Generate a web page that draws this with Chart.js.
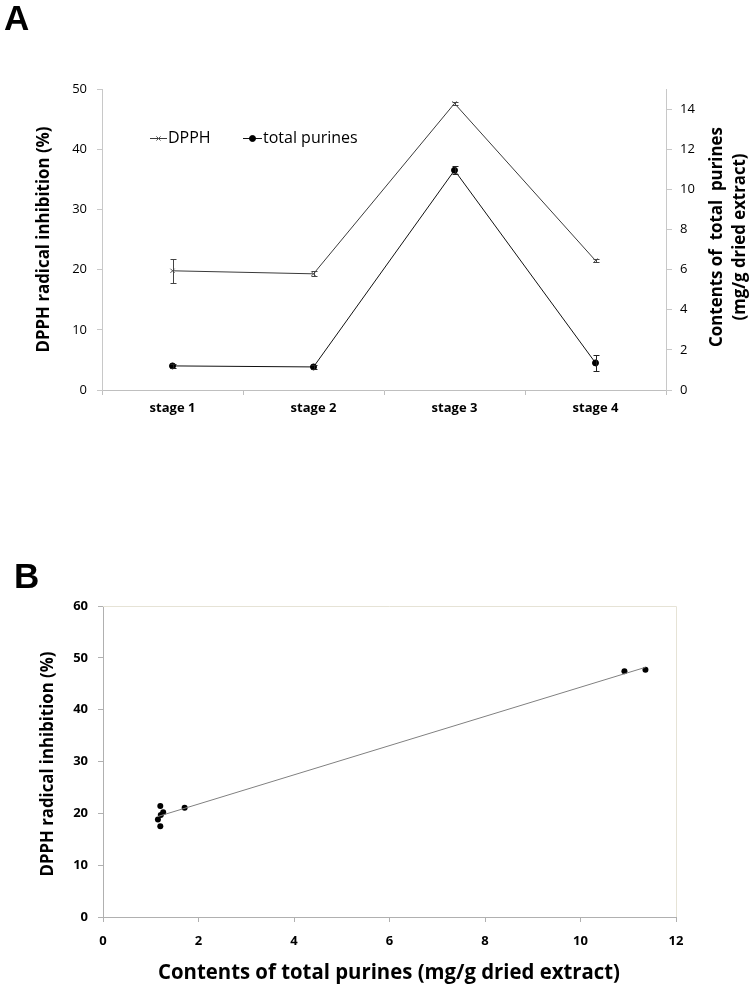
<!DOCTYPE html>
<html><head><meta charset="utf-8">
<script src="https://cdn.jsdelivr.net/npm/chart.js@4.4.1/dist/chart.umd.min.js"></script>
<style>
html,body{margin:0;padding:0;background:#fff;width:752px;height:991px;overflow:hidden;position:relative}
#c1{position:absolute;left:0;top:0}
#c2{position:absolute;left:0;top:560px}
.panel{position:absolute;font-family:'Liberation Sans',Arial,sans-serif;font-weight:bold;font-size:35px;line-height:35px;color:#000}
</style></head><body>
<canvas id="c1" width="752" height="430"></canvas>
<canvas id="c2" width="752" height="431"></canvas>
<div class="panel" style="left:4px;top:0px">A</div>
<div class="panel" style="left:14px;top:558px">B</div>
<script>
// ---------- data ----------
const stages = ['stage 1', 'stage 2', 'stage 3', 'stage 4'];
const dpphValues = [19.8, 19.3, 47.6, 21.5];
const dpphErrors = [2.0, 0.4, 0.3, 0.3];
const purineValues = [1.2, 1.15, 10.95, 1.35];
const purineErrors = [0.1, 0.08, 0.2, 0.4];
const leftTicksA = [0, 10, 20, 30, 40, 50];
const rightTicksA = [0, 2, 4, 6, 8, 10, 12, 14];

const scatterPurines = [1.20, 1.26, 1.21, 1.15, 1.20, 1.71, 10.92, 11.36];
const scatterDpph = [21.4, 20.2, 19.7, 18.8, 17.5, 21.1, 47.4, 47.7];

const legendLabels = ['DPPH', 'total purines'];
const titleLeftA = 'DPPH radical inhibition (%)';
const titleRightA1 = 'Contents of  total  purines';
const titleRightA2 = '(mg/g dried extract)';
const titleXB = 'Contents of total purines (mg/g dried extract)';
const titleYB = 'DPPH radical inhibition (%)';

Chart.defaults.font.family = '"Open Sans", sans-serif';
Chart.defaults.color = '#000';

function rotText(ctx, text, x, y, maxW) {
  ctx.save();
  ctx.translate(x, y);
  ctx.rotate(-Math.PI / 2);
  ctx.fillText(text, 0, 0, maxW);
  ctx.restore();
}

const errorBarPlugin = {
  id: 'errbars',
  afterDatasetsDraw(chart) {
    const ctx = chart.ctx;
    chart.data.datasets.forEach((ds, i) => {
      if (!ds.errorBars) return;
      const meta = chart.getDatasetMeta(i);
      const ys = chart.scales[ds.yAxisID];
      ctx.save();
      ctx.strokeStyle = ds.errorColor || '#000';
      ctx.lineWidth = 1;
      meta.data.forEach((pt, j) => {
        const v = ds.data[j], e = ds.errorBars[j];
        const y1 = Math.round(ys.getPixelForValue(v + e)) + 0.5;
        const y2 = Math.round(ys.getPixelForValue(v - e)) + 0.5;
        const x = Math.round(pt.x) + 0.5;
        ctx.beginPath();
        ctx.moveTo(x, y1); ctx.lineTo(x, y2);
        ctx.moveTo(x - 3, y1); ctx.lineTo(x + 3, y1);
        ctx.moveTo(x - 3, y2); ctx.lineTo(x + 3, y2);
        ctx.stroke();
      });
      ctx.restore();
    });
  }
};

const decorA = {
  id: 'decorA',
  afterDraw(chart) {
    const { ctx, chartArea: a } = chart;
    ctx.save();
    ctx.fillStyle = '#000';
    ctx.textAlign = 'center';
    ctx.textBaseline = 'middle';
    ctx.font = 'bold 17px "Open Sans", sans-serif';
    rotText(ctx, titleLeftA, 44, (a.top + a.bottom) / 2, 226);
    rotText(ctx, titleRightA1, 717, 237, 220);
    rotText(ctx, titleRightA2, 740, 237, 167);
    // legend
    const ly = a.top + 49.5;
    const items = [
      { x0: a.left + 48, x1: a.left + 65, tx: a.left + 66 },
      { x0: a.left + 141, x1: a.left + 160, tx: a.left + 161 }
    ];
    ctx.font = '16px "Open Sans", sans-serif';
    ctx.textAlign = 'left';
    items.forEach((it, i) => {
      const ds = chart.data.datasets[i];
      ctx.strokeStyle = ds.borderColor;
      ctx.lineWidth = 1;
      ctx.beginPath(); ctx.moveTo(it.x0, ly); ctx.lineTo(it.x1, ly); ctx.stroke();
      ctx.fillStyle = ds.pointBackgroundColor;
      ctx.strokeStyle = ds.pointBorderColor;
      Chart.helpers.drawPoint(ctx, { pointStyle: ds.pointStyle, radius: ds.pointRadius, rotation: 0, borderWidth: 1 }, (it.x0 + it.x1) / 2, ly);
      ctx.fillStyle = '#000';
      ctx.fillText(legendLabels[i], it.tx, ly, i === 0 ? 44 : 96);
    });
    ctx.restore();
  }
};

new Chart(document.getElementById('c1'), {
  type: 'line',
  data: {
    labels: stages,
    datasets: [
      {
        label: legendLabels[0], data: dpphValues, errorBars: dpphErrors, errorColor: '#444',
        yAxisID: 'y', borderColor: '#3a3a3a', borderWidth: 1, tension: 0,
        pointStyle: 'crossRot', pointRadius: 3, pointBorderColor: '#555', pointBackgroundColor: '#555', pointBorderWidth: 1
      },
      {
        label: legendLabels[1], data: purineValues, errorBars: purineErrors, errorColor: '#222',
        yAxisID: 'y1', borderColor: '#111', borderWidth: 1, tension: 0,
        pointStyle: 'circle', pointRadius: 3, pointBorderColor: '#000', pointBackgroundColor: '#000', pointBorderWidth: 1
      }
    ]
  },
  options: {
    responsive: false, animation: false,
    layout: { padding: { top: 89, left: 0, right: 0, bottom: 0 } },
    plugins: { legend: { display: false }, tooltip: { enabled: false } },
    scales: {
      x: {
        type: 'category', offset: true,
        grid: { offset: true, drawOnChartArea: false, tickLength: 5, color: '#bfbfbf' },
        border: { color: '#bfbfbf' },
        ticks: { font: { size: 13, weight: 'bold' }, color: '#000', padding: 5 },
        afterFit(s) { s.height = 40; }
      },
      y: {
        position: 'left', min: 0, max: 50,
        afterBuildTicks(s) { s.ticks = leftTicksA.map(v => ({ value: v })); },
        grid: { drawOnChartArea: false, tickLength: 5, color: '#c8c8c8' },
        border: { color: '#c8c8c8' },
        ticks: { font: { size: 13 }, color: '#000', padding: 10 },
        afterFit(s) { s.width = 102; }
      },
      y1: {
        position: 'right', min: 0, max: 15,
        afterBuildTicks(s) { s.ticks = rightTicksA.map(v => ({ value: v })); },
        grid: { drawOnChartArea: false, tickLength: 6, color: '#c8c8c8' },
        border: { color: '#c8c8c8' },
        ticks: { font: { size: 13 }, color: '#000', padding: 8 },
        afterFit(s) { s.width = 86; }
      }
    }
  },
  plugins: [errorBarPlugin, decorA]
});

// ---------- panel B ----------
const scatterPoints = scatterPurines.map((x, i) => ({ x: x, y: scatterDpph[i] }));
// least-squares trend line computed from the data
const n = scatterPurines.length;
const mx = scatterPurines.reduce((a, b) => a + b, 0) / n;
const my = scatterDpph.reduce((a, b) => a + b, 0) / n;
let sxy = 0, sxx = 0;
for (let i = 0; i < n; i++) { sxy += (scatterPurines[i] - mx) * (scatterDpph[i] - my); sxx += (scatterPurines[i] - mx) ** 2; }
const slope = sxy / sxx, intercept = my - slope * mx;
const xMin = Math.min(...scatterPurines), xMax = Math.max(...scatterPurines);
const trendPoints = [{ x: xMin, y: intercept + slope * xMin }, { x: xMax, y: intercept + slope * xMax }];

const decorB = {
  id: 'decorB',
  beforeDatasetsDraw(chart) {
    const { ctx, chartArea: a } = chart;
    ctx.save();
    ctx.strokeStyle = '#e6e3d6';
    ctx.lineWidth = 1;
    ctx.beginPath();
    ctx.moveTo(a.left, Math.round(a.top) + 0.5);
    ctx.lineTo(Math.round(a.right) + 0.5, Math.round(a.top) + 0.5);
    ctx.lineTo(Math.round(a.right) + 0.5, a.bottom);
    ctx.stroke();
    ctx.restore();
  },
  afterDraw(chart) {
    const { ctx, chartArea: a } = chart;
    ctx.save();
    ctx.fillStyle = '#000';
    ctx.textAlign = 'center';
    ctx.textBaseline = 'middle';
    ctx.font = 'bold 17px "Open Sans", sans-serif';
    rotText(ctx, titleYB, 48, 204, 225);
    ctx.font = 'bold 21px "Open Sans", sans-serif';
    ctx.fillText(titleXB, 389, 413, 462);
    ctx.restore();
  }
};

new Chart(document.getElementById('c2'), {
  type: 'scatter',
  data: {
    datasets: [
      { type: 'line', data: trendPoints, borderColor: '#808080', borderWidth: 1, pointRadius: 0, fill: false, tension: 0 },
      { type: 'scatter', data: scatterPoints, pointRadius: 3, pointBackgroundColor: '#000', pointBorderColor: '#000', pointBorderWidth: 0 }
    ]
  },
  options: {
    responsive: false, animation: false,
    layout: { padding: { top: 46, right: 76, left: 0, bottom: 0 } },
    plugins: { legend: { display: false }, tooltip: { enabled: false } },
    scales: {
      x: {
        type: 'linear', min: 0, max: 12,
        ticks: { stepSize: 2, font: { size: 13, weight: 'bold' }, color: '#000', padding: 11 },
        grid: { drawOnChartArea: false, tickLength: 5, color: '#b0b0b0' },
        border: { color: '#b0b0b0' },
        afterFit(s) { s.height = 74; }
      },
      y: {
        type: 'linear', min: 0, max: 60,
        ticks: { stepSize: 10, font: { size: 13, weight: 'bold' }, color: '#000', padding: 10 },
        grid: { drawOnChartArea: false, tickLength: 5, color: '#b0b0b0' },
        border: { color: '#b0b0b0' },
        afterFit(s) { s.width = 103; }
      }
    }
  },
  plugins: [decorB]
});
</script>
</body></html>
